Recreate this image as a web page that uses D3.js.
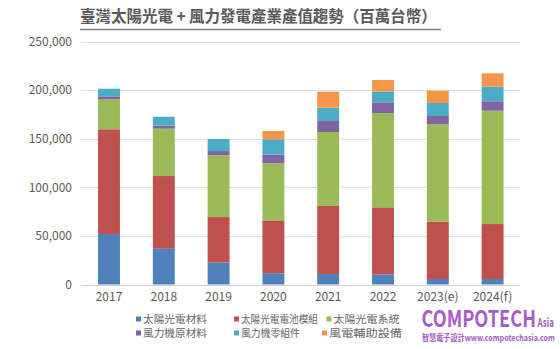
<!DOCTYPE html>
<html>
<head>
<meta charset="utf-8">
<script src="https://cdn.jsdelivr.net/npm/d3@7"></script>
<style>
  body { margin: 0; background: #fff; }
  text { font-family: "Noto Sans CJK TC", "Noto Sans", sans-serif; }
</style>
</head>
<body>
<svg width="560" height="349"></svg>
<script>
const width = 560;
const height = 349;

const years = ['2017', '2018', '2019', '2020', '2021', '2022', '2023(e)', '2024(f)'];
const seriesNames = ['太陽光電材料', '太陽光電電池模組', '太陽光電系統', '風力機原材料', '風力機零組件', '風電輔助設備'];
const colors = ['#4f81bd', '#c0504d', '#9bbb59', '#8064a2', '#4bacc6', '#f79646'];

// values per series, one per year (百萬台幣)
const pvMaterial = [52000, 36800, 22800, 11500, 10800, 10500, 5700, 5700];
const pvModule   = [107700, 74800, 46600, 54500, 70000, 68900, 58900, 56500];
const pvSystem   = [30800, 48700, 63500, 58700, 76100, 97000, 100200, 116600];
const windRaw    = [3100, 3100, 4400, 8900, 11300, 11000, 8600, 9700];
const windParts  = [7800, 9200, 12400, 15700, 13700, 11300, 13300, 15000];
const windAux    = [0, 0, 0, 8600, 16500, 11700, 12700, 13800];

const yTicks = [0, 50000, 100000, 150000, 200000, 250000];

const seriesValues = [pvMaterial, pvModule, pvSystem, windRaw, windParts, windAux];

const table = years.map((y, i) => {
  const row = { year: y };
  seriesNames.forEach((s, j) => { row[s] = seriesValues[j][i]; });
  return row;
});

const stack = d3.stack().keys(seriesNames);
const layers = stack(table);

const x = d3.scaleBand()
  .domain(years)
  .range([81.6, 520])
  .paddingInner(0.6)
  .paddingOuter(0.3);

const y = d3.scaleLinear()
  .domain([0, 250000])
  .range([284.5, 41.5]);

const svg = d3.select('svg');

// squeeze a text horizontally so it spans w pixels starting at (tx, ty)
function fitText(sel, tx, ty, w) {
  sel.each(function() {
    const len = this.getComputedTextLength();
    d3.select(this)
      .attr('x', 0).attr('y', 0)
      .attr('transform', `translate(${tx},${ty}) scale(${w / len},1)`);
  });
}

// title
svg.append('text')
  .attr('font-size', 16)
  .attr('font-weight', 'bold')
  .attr('fill', '#595959')
  .text('臺灣太陽光電 + 風力發電產業產值趨勢（百萬台幣）')
  .call(fitText, 80, 22, 357);

svg.append('line')
  .attr('x1', 80).attr('x2', 441)
  .attr('y1', 29.5).attr('y2', 29.5)
  .attr('stroke', '#7f7f7f')
  .attr('stroke-width', 1.5);

// grid lines
svg.append('g')
  .selectAll('line')
  .data(yTicks)
  .join('line')
    .attr('x1', 81.6)
    .attr('x2', 520)
    .attr('y1', d => Math.round(y(d)) + 0.5)
    .attr('y2', d => Math.round(y(d)) + 0.5)
    .attr('stroke', d => d === 0 ? '#d0d0d0' : '#e0e0e0');

// y axis labels
const yAxis = d3.axisLeft(y)
  .tickValues(yTicks)
  .tickFormat(d3.format(','))
  .tickSize(0)
  .tickPadding(0);

svg.append('g')
  .attr('transform', 'translate(72,0)')
  .call(yAxis)
  .call(g => g.select('.domain').remove())
  .call(g => g.selectAll('text')
    .attr('font-size', 12)
    .attr('fill', '#595959')
    .attr('font-family', '"Liberation Sans", Arial, sans-serif'));

// x axis labels
const xAxis = d3.axisBottom(x).tickSize(0).tickPadding(0);

svg.append('g')
  .attr('transform', 'translate(0,292)')
  .call(xAxis)
  .call(g => g.select('.domain').remove())
  .call(g => g.selectAll('text')
    .attr('font-size', 12)
    .attr('fill', '#595959')
    .attr('font-family', '"Liberation Sans", Arial, sans-serif'));

// stacked bars
svg.append('g')
  .selectAll('g')
  .data(layers)
  .join('g')
    .attr('fill', (d, i) => colors[i])
  .selectAll('rect')
  .data(d => d)
  .join('rect')
    .attr('x', d => x(d.data.year))
    .attr('width', x.bandwidth())
    .attr('y', d => y(d[1]))
    .attr('height', d => y(d[0]) - y(d[1]));

// legend: two rows of three
const legendPos = [
  [136, 319, 64], [234, 319, 77], [326.5, 319, 66],
  [136, 333, 64], [234, 333, 59], [322, 333, 73]
];

const legend = svg.append('g')
  .selectAll('g')
  .data(seriesNames)
  .join('g')
    .attr('transform', (d, i) => `translate(${legendPos[i][0]},${legendPos[i][1]})`);

legend.append('rect')
  .attr('x', 0).attr('y', -2.5)
  .attr('width', 5).attr('height', 5)
  .attr('fill', (d, i) => colors[i]);

legend.append('text')
  .attr('font-size', 10.5)
  .attr('fill', '#666')
  .text(d => d)
  .each(function(d, i) { d3.select(this).call(fitText, 7, 4, legendPos[i][2]); });

// logo
const purple = '#a55ec8';
svg.append('text')
  .attr('font-family', '"Liberation Sans Narrow", "Liberation Sans", sans-serif')
  .attr('font-weight', 'bold')
  .attr('font-size', 23)
  .attr('fill', purple)
  .text('COMPOTECH')
  .call(fitText, 421.5, 327, 114.5);

svg.append('text')
  .attr('font-family', '"Liberation Sans Narrow", "Liberation Sans", sans-serif')
  .attr('font-weight', 'bold')
  .attr('font-size', 12)
  .attr('fill', purple)
  .text('Asia')
  .call(fitText, 537.5, 327, 16.5);

svg.append('text')
  .attr('font-size', 9)
  .attr('font-weight', 'bold')
  .attr('fill', purple)
  .text('智慧電子設計www.compotechasia.com')
  .call(fitText, 422, 341, 133);
</script>
</body>
</html>
